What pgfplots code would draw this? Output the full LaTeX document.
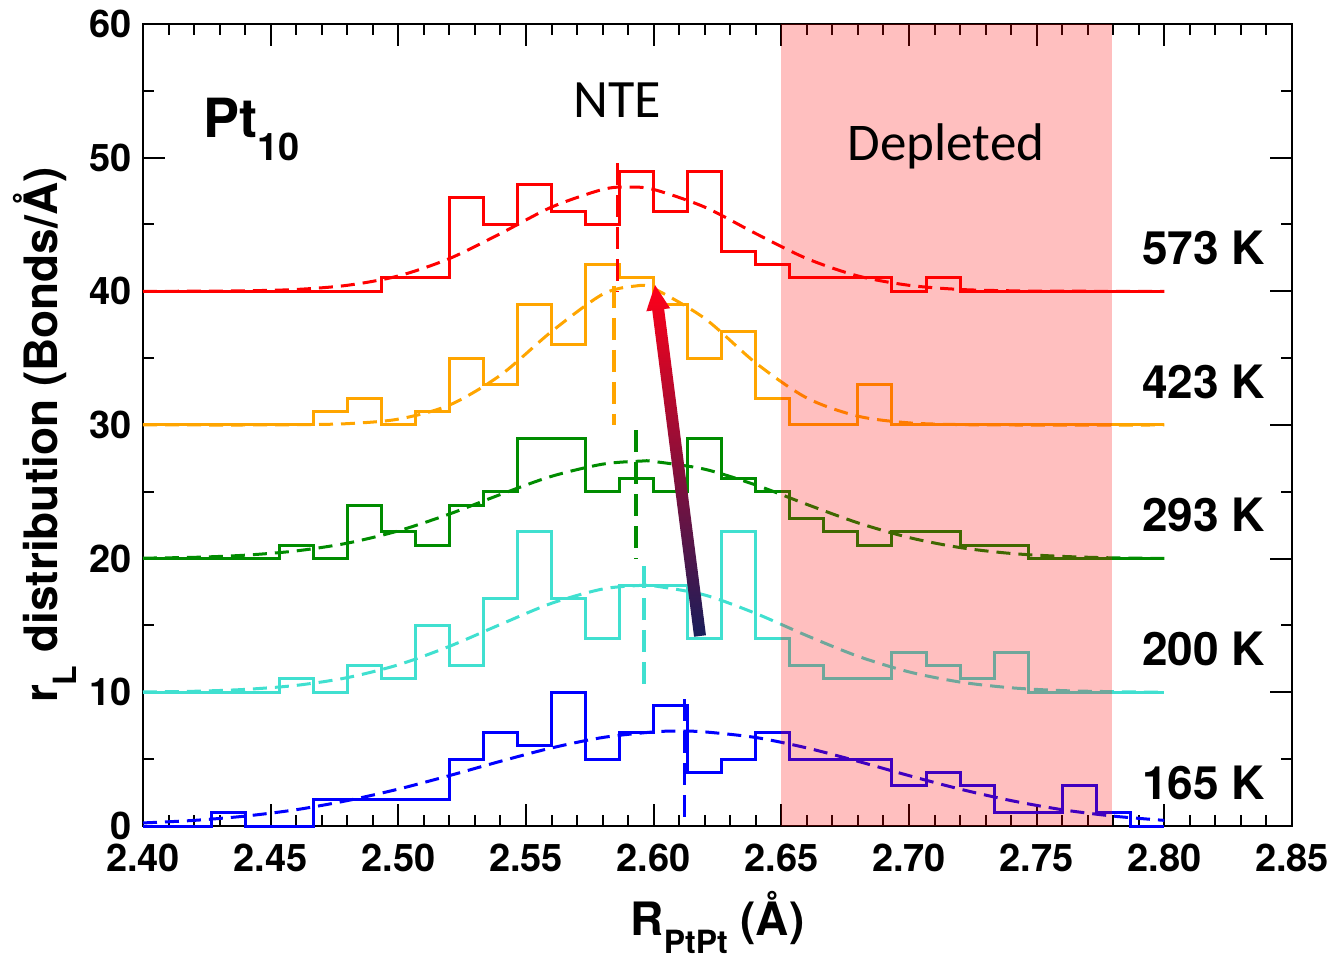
\documentclass[border=0pt]{standalone}
\usepackage{fontspec}
\setmainfont{TeX Gyre Heros}
\newfontfamily\lightfont{Carlito}
\usepackage{pgfplots}
\pgfplotsset{compat=1.18}
\usepackage{pgfplotstable}

\definecolor{cRed}{RGB}{255,0,0}
\definecolor{cOrange}{RGB}{255,165,0}
\definecolor{cGreen}{RGB}{0,140,0}
\definecolor{cCyan}{RGB}{64,224,208}
\definecolor{cBlue}{RGB}{0,0,255}
\definecolor{arrTop}{RGB}{255,0,25}
\definecolor{arrMid}{RGB}{170,20,85}
\definecolor{arrBot}{RGB}{25,30,90}

% histogram bins (left edges), last row closes the final bin
\pgfplotstableread{
x      blue cyan green orange red
2.4000 0    10   20    30     40
2.4133 0    10   20    30     40
2.4267 1    10   20    30     40
2.4400 0    10   20    30     40
2.4533 0    11   21    30     40
2.4667 2    10   20    31     40
2.4800 2    12   24    32     40
2.4933 2    11   22    30     41
2.5067 2    15   21    31     41
2.5200 5    12   24    35     47
2.5333 7    17   25    33     45
2.5467 6    22   29    39     48
2.5600 10   17   29    36     46
2.5733 5    14   25    42     45
2.5867 7    18   26    41     49
2.6000 9    18   25    39     46
2.6133 4    14   29    35     49
2.6267 5    22   26    37     43
2.6400 7    14   25    32     42
2.6533 5    12   23    30     41
2.6667 5    11   22    30     41
2.6800 5    11   21    33     41
2.6933 3    13   22    30     40
2.7067 4    12   22    30     41
2.7200 3    11   21    30     40
2.7333 1    13   21    30     40
2.7467 1    10   20    30     40
2.7600 3    10   20    30     40
2.7733 1    10   20    30     40
2.7867 0    10   20    30     40
2.8000 0    10   20    30     40
}\hist

\pgfplotstableread{
x y
2.40 40.00
2.42 40.01
2.44 40.04
2.46 40.14
2.48 40.45
2.50 41.15
2.52 42.45
2.54 44.32
2.56 46.30
2.58 47.62
2.59 47.80
2.60 47.62
2.62 46.30
2.64 44.32
2.66 42.45
2.68 41.15
2.70 40.45
2.72 40.14
2.74 40.04
2.76 40.01
2.80 40.00
}\fitred

\pgfplotstableread{
x y
2.40 30.00
2.42 30.00
2.44 30.00
2.46 30.02
2.48 30.10
2.50 30.44
2.52 31.49
2.54 33.73
2.56 36.99
2.58 39.78
2.593 40.40
2.60 40.21
2.62 37.97
2.64 34.64
2.66 32.02
2.68 30.66
2.70 30.16
2.72 30.03
2.74 30.00
2.80 30.00
}\fitorange

\pgfplotstableread{
x y
2.40 20.04
2.42 20.10
2.44 20.26
2.46 20.58
2.48 21.16
2.50 22.08
2.52 23.34
2.54 24.80
2.56 26.16
2.58 27.07
2.595 27.30
2.60 27.27
2.62 26.69
2.64 25.51
2.66 24.06
2.68 22.68
2.70 21.58
2.72 20.83
2.74 20.39
2.76 20.17
2.78 20.06
2.80 20.02
}\fitgreen

\pgfplotstableread{
x y
2.40 10.03
2.42 10.08
2.44 10.22
2.46 10.52
2.48 11.10
2.50 12.06
2.52 13.44
2.54 15.08
2.56 16.66
2.58 17.73
2.595 18.00
2.60 17.97
2.62 17.28
2.64 15.90
2.66 14.24
2.68 12.70
2.70 11.53
2.72 10.77
2.74 10.34
2.76 10.13
2.78 10.05
2.80 10.01
}\fitcyan

\pgfplotstableread{
x y
2.40 0.23
2.42 0.42
2.44 0.74
2.46 1.22
2.48 1.90
2.50 2.76
2.52 3.77
2.54 4.84
2.56 5.84
2.58 6.62
2.60 7.04
2.61 7.10
2.62 7.04
2.64 6.62
2.66 5.84
2.68 4.84
2.70 3.77
2.72 2.76
2.74 1.90
2.76 1.22
2.78 0.74
2.80 0.42
}\fitblue

\begin{document}
\begin{tikzpicture}
\begin{axis}[
  name=ax,
  scale only axis, width=1149pt, height=802pt,
  xmin=2.40, xmax=2.85, ymin=0, ymax=60,
  xtick={2.40,2.45,2.50,2.55,2.60,2.65,2.70,2.75,2.80,2.85},
  ytick={0,10,20,30,40,50,60},
  minor x tick num=4, minor y tick num=1,
  major tick length=22pt, minor tick length=11pt,
  tick style={black, line width=2pt},
  axis line style={black, line width=2.5pt},
  clip=false,
  /pgf/number format/assume math mode=true,
  tick label style={font=\fontsize{38}{38}\selectfont\bfseries},
  xticklabel style={inner sep=0pt, yshift=-18pt},
  x tick label style={/pgf/number format/fixed, /pgf/number format/fixed zerofill, /pgf/number format/precision=2},
  yticklabel style={inner sep=0pt, xshift=-11pt},
  label style={font=\fontsize{46}{46}\selectfont\bfseries, inner sep=0pt},
  xlabel={R\raisebox{-0.4em}{\fontsize{32}{32}\selectfont PtPt} (Å)},
  xlabel style={at={(axis description cs:0.5,0)}, anchor=base, yshift=-109pt},
  ylabel={r\raisebox{-0.4em}{\fontsize{32}{32}\selectfont L} distribution (Bonds/Å)},
  ylabel style={at={(axis description cs:-0.0853,0.4875)}, anchor=center},
]
\coordinate (SW) at (rel axis cs:0,0);
\coordinate (NE) at (rel axis cs:1,1);

% histograms
\addplot[const plot, cBlue, line width=3pt] table[x=x, y=blue] {\hist};
\addplot[const plot, cCyan, line width=3pt] table[x=x, y=cyan] {\hist};
\addplot[const plot, cGreen, line width=3pt] table[x=x, y=green] {\hist};
\addplot[const plot, cOrange, line width=3pt] table[x=x, y=orange] {\hist};
\addplot[const plot, cRed, line width=3pt] table[x=x, y=red] {\hist};

% fits
\addplot[smooth, cBlue, line width=3pt, dash pattern=on 14pt off 8pt] table {\fitblue};
\addplot[smooth, cCyan, line width=3pt, dash pattern=on 14pt off 8pt] table {\fitcyan};
\addplot[smooth, cGreen, line width=3pt, dash pattern=on 14pt off 8pt] table {\fitgreen};
\addplot[smooth, cOrange, line width=3pt, dash pattern=on 14pt off 8pt] table {\fitorange};
\addplot[smooth, cRed, line width=3pt, dash pattern=on 14pt off 8pt] table {\fitred};

% peak positions
\addplot[cBlue, line width=3.5pt, dash pattern=on 22pt off 10pt] coordinates {(2.612,9.5) (2.612,0)};
\addplot[cCyan, line width=3.5pt, dash pattern=on 22pt off 10pt] coordinates {(2.5962,19.45) (2.5962,10)};
\addplot[cGreen, line width=3.5pt, dash pattern=on 22pt off 10pt] coordinates {(2.593,29.6) (2.593,20)};
\addplot[cOrange, line width=3.5pt, dash pattern=on 22pt off 10pt] coordinates {(2.5845,40.4) (2.5845,30)};
\addplot[cRed, line width=3.5pt, dash pattern=on 22pt off 10pt] coordinates {(2.5858,49.6) (2.5858,40)};

% depleted region
\addplot[draw=none, fill=red, fill opacity=0.25] coordinates {(2.65,0) (2.7795,0) (2.7795,60) (2.65,60)} -- cycle;

% arrow
\shade[top color=arrTop, middle color=arrMid, bottom color=arrBot]
  (axis cs:2.61582,14.157) -- (axis cs:2.62048,14.271) -- (axis cs:2.60411,38.675)
  -- (axis cs:2.60644,38.731) -- (axis cs:2.60053,40.473) -- (axis cs:2.59712,38.504)
  -- (axis cs:2.59945,38.561) -- cycle;

% texts
\node[anchor=base west, inner sep=0pt, font=\fontsize{54}{54}\selectfont\bfseries] at (axis cs:2.4235,51.5) {Pt\raisebox{-0.43em}{\fontsize{38}{38}\selectfont 10}};
\node[anchor=base, inner sep=0pt, font=\fontsize{54}{54}\selectfont\lightfont] at (axis cs:2.5856,52.97) {NTE};
\node[anchor=base, inner sep=0pt, font=\fontsize{53}{53}\selectfont\lightfont] at (axis cs:2.7145,49.82) {Depleted};
\node[anchor=base east, inner sep=0pt, font=\fontsize{46}{46}\selectfont\bfseries] at (axis cs:2.8394,42) {573 K};
\node[anchor=base east, inner sep=0pt, font=\fontsize{46}{46}\selectfont\bfseries] at (axis cs:2.8394,32) {423 K};
\node[anchor=base east, inner sep=0pt, font=\fontsize{46}{46}\selectfont\bfseries] at (axis cs:2.8394,22) {293 K};
\node[anchor=base east, inner sep=0pt, font=\fontsize{46}{46}\selectfont\bfseries] at (axis cs:2.8394,12) {200 K};
\node[anchor=base east, inner sep=0pt, font=\fontsize{46}{46}\selectfont\bfseries] at (axis cs:2.8394,2) {165 K};
\end{axis}
\pgfresetboundingbox
\path[use as bounding box] ([shift={(-143pt,-132pt)}]SW) rectangle ([shift={(45pt,24pt)}]NE);
\end{tikzpicture}
\end{document}
